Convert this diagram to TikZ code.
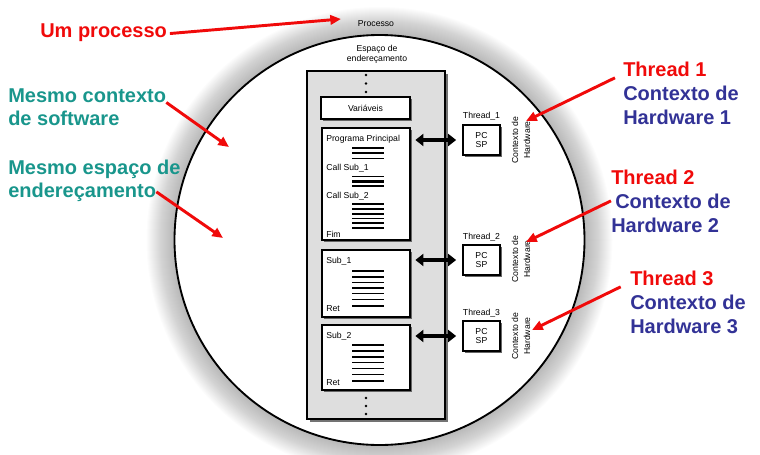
\documentclass[tikz,border=0pt]{standalone}
\usepackage{fontspec}
\setmainfont{Liberation Sans}
\usetikzlibrary{arrows.meta,shadows}
\definecolor{myred}{RGB}{240,10,10}
\definecolor{myteal}{RGB}{25,150,140}
\definecolor{myblue}{RGB}{50,50,150}
\definecolor{panelgray}{RGB}{222,222,222}
\def\pxu{0.75pt}
\begin{document}
\begin{tikzpicture}[x=0.75pt,y=-0.75pt,
 big/.style={font=\bfseries\fontsize{15}{18}\selectfont, inner sep=0pt, anchor=base west},
 small/.style={font=\fontsize{6.5}{8}\selectfont, inner sep=0pt},
 redarrow/.style={draw=myred, line width=2.2pt, -{Triangle[length=8pt,width=7pt]}},
 box/.style={draw=black, line width=1.1pt, fill=white, inner sep=0pt,
   drop shadow={shadow xshift=1.4pt, shadow yshift=-1.4pt, fill=black!60, opacity=1}},
 tbox/.style={box, line width=1.3pt, minimum width=37*\pxu, minimum height=30*\pxu,
   align=center, font=\fontsize{6.5}{6.8}\selectfont},
 dbl/.style={line width=3pt, {Triangle[length=6pt,width=9pt]}-{Triangle[length=6pt,width=9pt]},
   shorten <=3.5pt, shorten >=4.5pt},
 codeline/.style={line width=1.2pt},
 dotn/.style={fill=black, circle, inner sep=0pt, minimum size=2.2pt},
 vlabel/.style={rotate=90, align=center, inner sep=0pt, font=\fontsize{6.5}{9}\selectfont}
]
\useasboundingbox (0,0) rectangle (760,454);
% big circle with glow shadow
\coordinate (cc) at (379.5,240);
\foreach \i in {1,...,28} \fill[black,opacity=0.011] (cc) circle[radius=205+\i];
\fill[white] (cc) circle[radius=205];
\draw[line width=1.4pt] (cc) circle[radius=205];

\node[small] (proc) at (376,24) {Processo};
\node[small, align=center, font=\fontsize{6.5}{7.6}\selectfont] (esp) at (377,54) {Espaço de\\endereçamento};

% address space panel
\node[draw, line width=1.5pt, fill=panelgray, minimum width=138*\pxu, minimum height=348*\pxu,
  inner sep=0pt, drop shadow={shadow xshift=2pt, shadow yshift=-2pt, fill=black!55, opacity=1}] (panel) at (376,245) {};

\node[dotn] (d1) at (366,75) {};
\node[dotn] (d2) at (366,83.5) {};
\node[dotn] (d3) at (366,92) {};
\node[dotn] (d4) at (366,398) {};
\node[dotn] (d5) at (366,406) {};
\node[dotn] (d6) at (366,414) {};

\node[box, minimum width=89*\pxu, minimum height=22*\pxu, font=\fontsize{6.5}{8}\selectfont] (var) at (365.5,108) {Variáveis};

\node[box, minimum width=88*\pxu, minimum height=112*\pxu] (prog) at (366,184) {};
\node[box, minimum width=88*\pxu, minimum height=67*\pxu] (sub1) at (366,283.5) {};
\node[box, minimum width=88*\pxu, minimum height=65*\pxu] (sub2) at (366,357.5) {};

\node[small, anchor=west] (pp) at (326,139) {Programa Principal};
\node[small, anchor=west] (cs1) at (326,168) {Call Sub\_1};
\node[small, anchor=west] (cs2) at (326,196) {Call Sub\_2};
\node[small, anchor=west] (fim) at (326,234) {Fim};
\node[small, anchor=west] (s1) at (326,261) {Sub\_1};
\node[small, anchor=west] (r1) at (326,309) {Ret};
\node[small, anchor=west] (s2) at (326,336) {Sub\_2};
\node[small, anchor=west] (r2) at (326,383) {Ret};

\foreach \y in {148,152.7,158.3,204,209,214,218.5,223,228,
  270.7,276.7,282.3,287.7,293.3,299.3,306,
  345,350.7,356.7,362.3,368.3,374.3,380.7}
  \draw[codeline] (352,\y) -- (384,\y);
\draw[line width=0.8pt] (352,176.7) -- (384,176.7);
\draw[line width=1.8pt] (352,181.3) -- (384,181.3);
\draw[line width=0.8pt] (352,186) -- (384,186);

% thread boxes
\node[tbox] (t1) at (481.5,140) {PC\\SP};
\node[tbox] (t2) at (481.5,260) {PC\\SP};
\node[tbox] (t3) at (481.5,336) {PC\\SP};
\node[small] (l1) at (481.5,116) {Thread\_1};
\node[small] (l2) at (481.5,237) {Thread\_2};
\node[small] (l3) at (481.5,313) {Thread\_3};
\node[vlabel] (h1) at (521,140) {Contexto de\\Hardware};
\node[vlabel] (h2) at (521,259) {Contexto de\\Hardware};
\node[vlabel] (h3) at (521,336) {Contexto de\\Hardware};

\draw[dbl] (t1.west -| prog.east) -- (t1.west);
\draw[dbl] (t2.west -| sub1.east) -- (t2.west);
\draw[dbl] (t3.west -| sub2.east) -- (t3.west);

% annotations
\node[big, text=myred] (up) at (40,37) {Um processo};
\node[big, text=myteal] (mc1) at (8,102) {Mesmo contexto};
\node[big, text=myteal] (mc2) at (8,125) {de software};
\node[big, text=myteal] (me1) at (8,174) {Mesmo espaço de};
\node[big, text=myteal] (me2) at (8,197) {endereçamento};
\node[big, text=myred] (th1) at (623,76) {Thread 1};
\node[big, text=myblue] (c1) at (623,100) {Contexto de};
\node[big, text=myblue] (hw1) at (623,124) {Hardware 1};
\node[big, text=myred] (th2) at (611,184) {Thread 2};
\node[big, text=myblue] (c2) at (615,208) {Contexto de};
\node[big, text=myblue] (hw2) at (611,232) {Hardware 2};
\node[big, text=myred] (th3) at (630,285) {Thread 3};
\node[big, text=myblue] (c3) at (630,309) {Contexto de};
\node[big, text=myblue] (hw3) at (630,333) {Hardware 3};

\coordinate (e0) at (341,19);
\coordinate (e1) at (229,147);
\coordinate (e2) at (223,238);
\coordinate (e3) at (526,121);
\coordinate (e4) at (526,242);
\coordinate (e5) at (532,330);

\draw[redarrow] ([xshift=2pt,yshift=-1pt]up.east) -- (e0);
\draw[redarrow] (mc1.south east) -- (e1);
\draw[redarrow] (me2.east) -- (e2);
\draw[redarrow] ([xshift=-6pt,yshift=-1pt]th1.south west) -- (e3);
\draw[redarrow] ([xshift=-3pt]c2.west) -- (e4);
\draw[redarrow] ([xshift=-7pt,yshift=-1pt]th3.south west) -- (e5);
\end{tikzpicture}
\end{document}
